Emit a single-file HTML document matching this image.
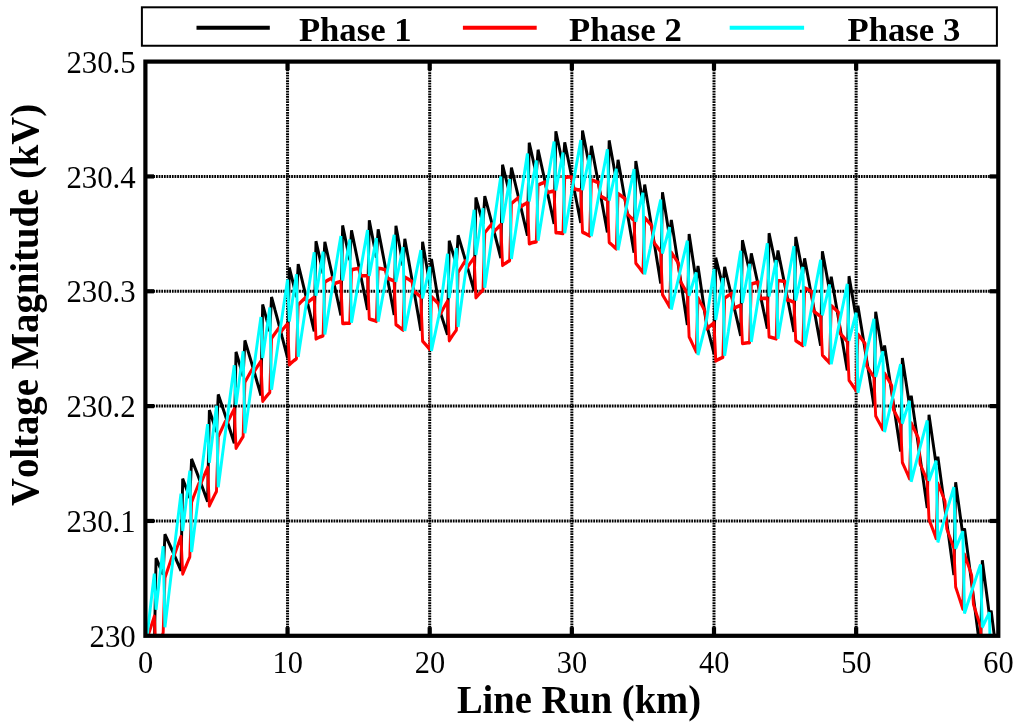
<!DOCTYPE html>
<html lang="en"><head><meta charset="utf-8"><title>Voltage Magnitude vs Line Run</title>
<style>
html,body{margin:0;padding:0;background:#fff;}
body{width:1024px;height:727px;overflow:hidden;}
svg{display:block;}
text{font-kerning:none;}
.tk{font-family:"Liberation Serif","Times New Roman",serif;font-size:31.5px;fill:#000;}
.lb{font-family:"Liberation Serif","Times New Roman",serif;font-weight:bold;font-size:40px;fill:#000;}
.lg{font-family:"Liberation Serif","Times New Roman",serif;font-weight:bold;font-size:34.7px;fill:#000;}
</style></head><body>
<svg width="1024" height="727" viewBox="0 0 1024 727">
<rect width="1024" height="727" fill="#fff"/>
<g stroke="#000" stroke-width="3" stroke-dasharray="1.75 0.9" fill="none">
<line x1="287.55" y1="61.6" x2="287.55" y2="635.8"/>
<line x1="429.70" y1="61.6" x2="429.70" y2="635.8"/>
<line x1="571.85" y1="61.6" x2="571.85" y2="635.8"/>
<line x1="714.00" y1="61.6" x2="714.00" y2="635.8"/>
<line x1="856.15" y1="61.6" x2="856.15" y2="635.8"/>
<line x1="145.4" y1="520.96" x2="998.3" y2="520.96"/>
<line x1="145.4" y1="406.12" x2="998.3" y2="406.12"/>
<line x1="145.4" y1="291.28" x2="998.3" y2="291.28"/>
<line x1="145.4" y1="176.44" x2="998.3" y2="176.44"/>
</g>
<defs><clipPath id="pc"><rect x="145.40" y="61.60" width="852.90" height="574.20"/></clipPath></defs>
<g clip-path="url(#pc)"><g transform="scale(0.8,1)" fill="none" stroke-width="3.65">
<path stroke="#000" stroke-linejoin="bevel" d="M181.75 633.1 L183.97 636.5 L186.19 639.9 L188.41 643.3 L190.63 646.8 L192.86 650.4 L195.08 558.2 L197.30 562.2 L199.52 566.3 L201.74 570.4 L203.96 574.5 L206.18 534.3 L208.40 538.2 L210.62 542.1 L212.85 546.0 L215.07 550.0 L217.29 554.1 L219.51 558.1 L221.73 562.3 L223.95 566.5 L226.17 570.7 L228.39 478.9 L230.61 483.5 L232.84 488.2 L235.06 493.0 L237.28 497.8 L239.50 459.1 L241.72 463.6 L243.94 468.2 L246.16 472.8 L248.38 477.5 L250.60 482.3 L252.82 487.0 L255.05 491.8 L257.27 496.7 L259.49 501.6 L261.71 410.2 L263.93 415.5 L266.15 420.8 L268.37 426.2 L270.59 431.7 L272.81 394.5 L275.04 399.7 L277.26 405.0 L279.48 410.3 L281.70 415.6 L283.92 421.0 L286.14 426.5 L288.36 432.0 L290.58 437.6 L292.80 443.1 L295.03 352.0 L297.25 358.0 L299.47 364.0 L301.69 370.0 L303.91 376.1 L306.13 340.5 L308.35 346.4 L310.57 352.3 L312.79 358.3 L315.02 364.3 L317.24 370.4 L319.46 376.6 L321.68 382.8 L323.90 389.0 L326.12 395.3 L328.34 304.5 L330.56 311.1 L332.78 317.8 L335.01 324.5 L337.23 331.2 L339.45 297.0 L341.67 303.6 L343.89 310.3 L346.11 316.9 L348.33 323.7 L350.55 330.4 L352.77 337.3 L355.00 344.1 L357.22 351.0 L359.44 358.0 L361.66 267.5 L363.88 274.8 L366.10 282.1 L368.32 289.5 L370.54 296.9 L372.76 264.2 L374.99 271.5 L377.21 278.8 L379.43 286.2 L381.65 293.6 L383.87 301.0 L386.09 308.5 L388.31 316.1 L390.53 323.7 L392.75 331.3 L394.98 241.2 L397.20 249.1 L399.42 257.1 L401.64 265.1 L403.86 273.2 L406.08 242.0 L408.30 250.0 L410.52 257.9 L412.74 266.0 L414.96 274.1 L417.19 282.2 L419.41 290.4 L421.63 298.6 L423.85 306.9 L426.07 315.2 L428.29 225.5 L430.51 234.0 L432.73 242.7 L434.95 251.4 L437.18 260.1 L439.40 230.4 L441.62 239.0 L443.84 247.7 L446.06 256.4 L448.28 265.2 L450.50 274.0 L452.72 282.9 L454.94 291.8 L457.17 300.8 L459.39 309.8 L461.61 220.3 L463.83 229.6 L466.05 238.8 L468.27 248.2 L470.49 257.6 L472.71 229.4 L474.93 238.7 L477.16 248.0 L479.38 257.4 L481.60 266.9 L483.82 276.4 L486.04 286.0 L488.26 295.5 L490.48 305.2 L492.70 314.9 L494.92 225.8 L497.15 235.7 L499.37 245.6 L501.59 255.6 L503.81 265.7 L506.03 239.0 L508.25 248.9 L510.47 259.0 L512.69 269.1 L514.91 279.2 L517.14 289.4 L519.36 299.6 L521.58 309.9 L523.80 320.2 L526.02 330.6 L528.24 241.8 L530.46 252.4 L532.68 263.0 L534.90 273.6 L537.12 284.3 L539.35 259.1 L541.57 269.8 L543.79 280.5 L546.01 291.3 L548.23 302.1 L550.45 312.2 L552.67 317.8 L554.89 323.4 L557.11 329.0 L559.34 334.7 L561.56 240.9 L563.78 246.7 L566.00 252.6 L568.22 258.5 L570.44 264.5 L572.66 235.4 L574.88 241.4 L577.10 247.4 L579.33 253.5 L581.55 259.6 L583.77 265.8 L585.99 272.0 L588.21 278.3 L590.43 284.6 L592.65 291.0 L594.87 197.5 L597.09 204.0 L599.32 210.6 L601.54 217.2 L603.76 223.8 L605.98 196.2 L608.20 202.9 L610.42 209.6 L612.64 216.4 L614.86 223.2 L617.08 230.0 L619.31 236.9 L621.53 243.9 L623.75 250.9 L625.97 258.0 L628.19 164.8 L630.41 172.0 L632.63 179.2 L634.85 186.4 L637.07 193.8 L639.30 167.7 L641.52 175.0 L643.74 182.4 L645.96 189.9 L648.18 197.4 L650.40 204.9 L652.62 212.5 L654.84 220.2 L657.06 227.8 L659.29 235.6 L661.51 142.8 L663.73 150.6 L665.95 158.5 L668.17 166.4 L670.39 174.4 L672.61 149.8 L674.83 157.8 L677.05 165.9 L679.27 174.0 L681.50 182.2 L683.72 190.4 L685.94 198.7 L688.16 207.0 L690.38 215.4 L692.60 223.8 L694.82 131.4 L697.04 139.9 L699.26 148.4 L701.49 157.0 L703.71 165.6 L705.93 142.5 L708.15 151.2 L710.37 160.0 L712.59 168.8 L714.81 177.7 L717.03 186.6 L719.25 195.6 L721.48 204.6 L723.70 213.7 L725.92 222.8 L728.14 130.6 L730.36 139.8 L732.58 149.0 L734.80 158.2 L737.02 167.5 L739.24 145.9 L741.47 155.3 L743.69 164.8 L745.91 174.3 L748.13 183.8 L750.35 193.4 L752.57 203.1 L754.79 212.8 L757.01 222.5 L759.23 232.3 L761.46 140.5 L763.68 150.3 L765.90 160.2 L768.12 170.1 L770.34 180.0 L772.56 159.9 L774.78 170.0 L777.00 180.2 L779.22 190.4 L781.45 200.6 L783.67 210.9 L785.89 221.2 L788.11 231.6 L790.33 242.1 L792.55 252.5 L794.77 161.1 L796.99 171.6 L799.21 182.1 L801.44 192.6 L803.66 203.2 L805.88 184.6 L808.10 195.4 L810.32 206.2 L812.54 217.1 L814.76 228.1 L816.98 239.0 L819.20 250.0 L821.42 261.1 L823.65 272.2 L825.87 283.4 L828.09 192.3 L830.31 203.4 L832.53 214.6 L834.75 225.8 L836.97 237.1 L839.19 220.0 L841.41 231.4 L843.64 243.0 L845.86 254.5 L848.08 266.1 L850.30 277.8 L852.52 289.5 L854.74 301.2 L856.96 313.0 L859.18 324.9 L861.40 234.1 L863.63 245.9 L865.85 257.8 L868.07 269.6 L870.29 281.5 L872.51 266.0 L874.73 278.1 L876.95 290.3 L879.17 302.6 L881.39 314.9 L883.62 325.4 L885.84 332.4 L888.06 339.4 L890.28 346.5 L892.50 353.7 L894.72 257.9 L896.94 265.0 L899.16 272.1 L901.38 279.2 L903.61 286.4 L905.83 266.9 L908.05 274.4 L910.27 281.9 L912.49 289.5 L914.71 297.1 L916.93 304.7 L919.15 312.4 L921.37 320.1 L923.60 327.9 L925.82 335.8 L928.04 240.3 L930.26 248.0 L932.48 255.8 L934.70 263.6 L936.92 271.5 L939.14 253.5 L941.36 261.6 L943.59 269.8 L945.81 278.0 L948.03 286.3 L950.25 294.7 L952.47 303.0 L954.69 311.5 L956.91 319.9 L959.13 328.5 L961.35 233.3 L963.57 241.7 L965.80 250.1 L968.02 258.6 L970.24 267.1 L972.46 250.6 L974.68 259.5 L976.90 268.3 L979.12 277.3 L981.34 286.2 L983.56 295.3 L985.79 304.3 L988.01 313.4 L990.23 322.6 L992.45 331.8 L994.67 237.0 L996.89 246.0 L999.11 255.1 L1001.33 264.2 L1003.55 273.4 L1005.78 258.4 L1008.00 268.0 L1010.22 277.5 L1012.44 287.1 L1014.66 296.8 L1016.88 306.5 L1019.10 316.2 L1021.32 326.0 L1023.54 335.9 L1025.77 345.7 L1027.99 251.3 L1030.21 261.0 L1032.43 270.7 L1034.65 280.5 L1036.87 290.4 L1039.09 276.9 L1041.31 287.1 L1043.53 297.3 L1045.76 307.6 L1047.98 317.9 L1050.20 328.3 L1052.42 338.8 L1054.64 349.2 L1056.86 359.8 L1059.08 370.3 L1061.30 276.2 L1063.52 286.6 L1065.75 297.0 L1067.97 307.4 L1070.19 317.9 L1072.41 305.9 L1074.63 316.8 L1076.85 327.7 L1079.07 338.7 L1081.29 349.7 L1083.51 360.8 L1085.74 371.9 L1087.96 383.1 L1090.18 394.3 L1092.40 405.6 L1094.62 311.8 L1096.84 322.8 L1099.06 333.9 L1101.28 345.0 L1103.50 356.1 L1105.72 345.6 L1107.95 357.2 L1110.17 368.8 L1112.39 380.5 L1114.61 392.2 L1116.83 403.9 L1119.05 415.7 L1121.27 427.6 L1123.49 439.5 L1125.71 451.4 L1127.94 358.0 L1130.16 369.6 L1132.38 381.4 L1134.60 393.1 L1136.82 404.9 L1139.04 395.9 L1141.26 408.2 L1143.48 420.5 L1145.70 432.8 L1147.93 445.2 L1150.15 457.7 L1152.37 470.1 L1154.59 482.7 L1156.81 495.3 L1159.03 507.9 L1161.25 414.8 L1163.47 427.1 L1165.69 439.5 L1167.92 451.9 L1170.14 464.4 L1172.36 456.9 L1174.58 469.8 L1176.80 482.8 L1179.02 495.8 L1181.24 508.9 L1183.46 522.0 L1185.68 535.2 L1187.91 548.4 L1190.13 561.7 L1192.35 575.0 L1194.57 482.2 L1196.79 495.2 L1199.01 508.3 L1201.23 521.3 L1203.45 534.5 L1205.67 528.5 L1207.90 542.1 L1210.12 555.8 L1212.34 569.5 L1214.56 583.2 L1216.78 597.0 L1219.00 610.9 L1221.22 624.8 L1223.44 638.7 L1225.66 652.7 L1227.89 560.3 L1230.11 574.0 L1232.33 587.7 L1234.55 601.4 L1236.77 615.2 L1238.99 610.7 L1241.21 625.0 L1243.43 639.3 L1245.65 653.7 L1247.87 668.2"/>
<path stroke="#f00" stroke-linejoin="round" d="M181.75 640.2 L183.97 638.9 L186.19 633.2 L188.41 627.6 L190.63 622.0 L192.86 616.4 L195.08 652.8 L197.30 647.8 L199.52 642.7 L201.74 637.7 L203.96 632.8 L206.18 577.9 L208.40 572.5 L210.62 567.2 L212.85 561.9 L215.07 556.7 L217.29 556.4 L219.51 551.4 L221.73 546.4 L223.95 541.5 L226.17 536.6 L228.39 574.0 L230.61 569.7 L232.84 565.3 L235.06 561.0 L237.28 556.8 L239.50 502.1 L241.72 497.4 L243.94 492.8 L246.16 488.2 L248.38 483.7 L250.60 484.4 L252.82 480.1 L255.05 475.9 L257.27 471.7 L259.49 467.5 L261.71 505.8 L263.93 502.1 L266.15 498.5 L268.37 494.9 L270.59 491.4 L272.81 436.9 L275.04 432.9 L277.26 429.0 L279.48 425.1 L281.70 421.3 L283.92 423.1 L286.14 419.5 L288.36 416.0 L290.58 412.5 L292.80 409.0 L295.03 448.2 L297.25 445.2 L299.47 442.3 L301.69 439.4 L303.91 436.6 L306.13 382.3 L308.35 379.0 L310.57 375.8 L312.79 372.6 L315.02 369.5 L317.24 372.4 L319.46 369.5 L321.68 366.7 L323.90 363.9 L326.12 361.2 L328.34 401.1 L330.56 398.9 L332.78 396.6 L335.01 394.5 L337.23 392.4 L339.45 338.3 L341.67 335.7 L343.89 333.2 L346.11 330.8 L348.33 328.3 L350.55 332.3 L352.77 330.1 L355.00 328.0 L357.22 325.9 L359.44 323.9 L361.66 364.7 L363.88 363.1 L366.10 361.6 L368.32 360.1 L370.54 358.7 L372.76 304.9 L374.99 303.0 L377.21 301.2 L379.43 299.5 L381.65 297.8 L383.87 302.8 L386.09 301.4 L388.31 300.0 L390.53 298.6 L392.75 297.3 L394.98 338.8 L397.20 337.9 L399.42 337.1 L401.64 336.4 L403.86 335.7 L406.08 282.1 L408.30 280.9 L410.52 279.8 L412.74 278.8 L414.96 277.8 L417.19 284.0 L419.41 283.2 L421.63 282.5 L423.85 281.9 L426.07 281.3 L428.29 323.5 L430.51 323.4 L432.73 323.3 L434.95 323.2 L437.18 323.2 L439.40 269.9 L441.62 269.4 L443.84 269.0 L446.06 268.7 L448.28 268.4 L450.50 275.8 L452.72 275.7 L454.94 275.7 L457.17 275.8 L459.39 275.9 L461.61 318.8 L463.83 319.4 L466.05 320.0 L468.27 320.6 L470.49 321.3 L472.71 268.3 L474.93 268.5 L477.16 268.8 L479.38 269.2 L481.60 269.6 L483.82 278.2 L486.04 278.8 L488.26 279.5 L490.48 280.3 L492.70 281.1 L494.92 324.7 L497.15 325.9 L499.37 327.3 L501.59 328.6 L503.81 330.0 L506.03 277.2 L508.25 278.2 L510.47 279.2 L512.69 280.3 L514.91 281.4 L517.14 291.2 L519.36 292.6 L521.58 294.0 L523.80 295.4 L526.02 296.9 L528.24 341.1 L530.46 343.1 L532.68 345.1 L534.90 347.2 L537.12 349.3 L539.35 296.8 L541.57 298.5 L543.79 300.3 L546.01 302.0 L548.23 303.9 L550.45 314.1 L552.67 310.8 L554.89 307.5 L557.11 304.3 L559.34 301.2 L561.56 340.6 L563.78 337.9 L566.00 335.2 L568.22 332.6 L570.44 330.1 L572.66 272.5 L574.88 269.5 L577.10 266.6 L579.33 263.7 L581.55 260.9 L583.77 267.7 L585.99 265.1 L588.21 262.6 L590.43 260.1 L592.65 257.6 L594.87 297.6 L597.09 295.6 L599.32 293.7 L601.54 291.8 L603.76 290.0 L605.98 232.7 L608.20 230.5 L610.42 228.2 L612.64 226.1 L614.86 223.9 L617.08 232.0 L619.31 230.1 L621.53 228.3 L623.75 226.5 L625.97 224.8 L628.19 265.3 L630.41 264.0 L632.63 262.8 L634.85 261.6 L637.07 260.5 L639.30 203.6 L641.52 202.0 L643.74 200.5 L645.96 199.0 L648.18 197.6 L650.40 207.0 L652.62 205.8 L654.84 204.7 L657.06 203.7 L659.29 202.6 L661.51 243.6 L663.73 243.1 L665.95 242.5 L668.17 242.1 L670.39 241.6 L672.61 185.1 L674.83 184.2 L677.05 183.4 L679.27 182.7 L681.50 182.0 L683.72 192.7 L685.94 192.2 L688.16 191.8 L690.38 191.4 L692.60 191.1 L694.82 232.6 L697.04 232.7 L699.26 232.9 L701.49 233.1 L703.71 233.4 L705.93 177.3 L708.15 177.1 L710.37 177.0 L712.59 177.0 L714.81 177.0 L717.03 189.0 L719.25 189.2 L721.48 189.6 L723.70 189.9 L725.92 190.3 L728.14 232.2 L730.36 233.0 L732.58 233.9 L734.80 234.9 L737.02 235.8 L739.24 180.1 L741.47 180.6 L743.69 181.2 L745.91 181.9 L748.13 182.6 L750.35 196.0 L752.57 197.0 L754.79 198.0 L757.01 199.0 L759.23 200.1 L761.46 242.4 L763.68 243.9 L765.90 245.6 L768.12 247.2 L770.34 248.9 L772.56 193.5 L774.78 194.8 L777.00 196.1 L779.22 197.5 L781.45 198.9 L783.67 213.6 L785.89 215.3 L788.11 217.1 L790.33 218.8 L792.55 220.7 L794.77 263.2 L796.99 265.5 L799.21 267.8 L801.44 270.2 L803.66 272.6 L805.88 217.6 L808.10 219.6 L810.32 221.6 L812.54 223.7 L814.76 225.8 L816.98 242.0 L819.20 244.4 L821.42 246.8 L823.65 249.3 L825.87 251.8 L828.09 294.7 L830.31 297.7 L832.53 300.7 L834.75 303.8 L836.97 306.9 L839.19 252.4 L841.41 255.1 L843.64 257.8 L845.86 260.6 L848.08 263.4 L850.30 281.0 L852.52 284.1 L854.74 287.2 L856.96 290.4 L859.18 293.7 L861.40 336.9 L863.63 340.5 L865.85 344.3 L868.07 348.1 L870.29 351.9 L872.51 297.8 L874.73 301.2 L876.95 304.6 L879.17 308.1 L881.39 311.7 L883.62 328.8 L885.84 327.2 L888.06 325.7 L890.28 324.2 L892.50 322.8 L894.72 360.9 L896.94 359.9 L899.16 359.0 L901.38 358.1 L903.61 357.2 L905.83 298.1 L908.05 296.9 L910.27 295.7 L912.49 294.5 L914.71 293.4 L916.93 308.4 L919.15 307.6 L921.37 306.7 L923.60 306.0 L925.82 305.3 L928.04 343.5 L930.26 343.3 L932.48 343.0 L934.70 342.8 L936.92 342.7 L939.14 284.1 L941.36 283.5 L943.59 283.0 L945.81 282.6 L948.03 282.1 L950.25 298.7 L952.47 298.5 L954.69 298.4 L956.91 298.4 L959.13 298.4 L961.35 336.8 L963.57 337.2 L965.80 337.7 L968.02 338.2 L970.24 338.8 L972.46 280.7 L974.68 280.8 L976.90 281.0 L979.12 281.3 L981.34 281.6 L983.56 299.6 L985.79 300.1 L988.01 300.8 L990.23 301.4 L992.45 302.1 L994.67 340.7 L996.89 341.9 L999.11 343.0 L1001.33 344.3 L1003.55 345.5 L1005.78 287.9 L1008.00 288.7 L1010.22 289.7 L1012.44 290.6 L1014.66 291.6 L1016.88 311.1 L1019.10 312.4 L1021.32 313.7 L1023.54 315.1 L1025.77 316.5 L1027.99 355.2 L1030.21 357.1 L1032.43 359.0 L1034.65 360.9 L1036.87 362.9 L1039.09 305.7 L1041.31 307.3 L1043.53 308.9 L1045.76 310.6 L1047.98 312.3 L1050.20 333.4 L1052.42 335.3 L1054.64 337.4 L1056.86 339.5 L1059.08 341.6 L1061.30 380.4 L1063.52 382.9 L1065.75 385.5 L1067.97 388.2 L1070.19 390.9 L1072.41 334.2 L1074.63 336.5 L1076.85 338.8 L1079.07 341.2 L1081.29 343.6 L1083.51 366.2 L1085.74 368.9 L1087.96 371.7 L1090.18 374.4 L1092.40 377.3 L1094.62 416.1 L1096.84 419.4 L1099.06 422.7 L1101.28 426.0 L1103.50 429.4 L1105.72 373.3 L1107.95 376.3 L1110.17 379.3 L1112.39 382.4 L1114.61 385.5 L1116.83 409.7 L1119.05 413.1 L1121.27 416.6 L1123.49 420.1 L1125.71 423.6 L1127.94 462.5 L1130.16 466.4 L1132.38 470.4 L1134.60 474.5 L1136.82 478.6 L1139.04 423.0 L1141.26 426.7 L1143.48 430.5 L1145.70 434.3 L1147.93 438.1 L1150.15 463.9 L1152.37 468.0 L1154.59 472.2 L1156.81 476.4 L1159.03 480.6 L1161.25 519.4 L1163.47 524.1 L1165.69 528.8 L1167.92 533.6 L1170.14 538.4 L1172.36 483.4 L1174.58 487.8 L1176.80 492.2 L1179.02 496.7 L1181.24 501.3 L1183.46 528.7 L1185.68 533.5 L1187.91 538.4 L1190.13 543.3 L1192.35 548.3 L1194.57 587.0 L1196.79 592.4 L1199.01 597.9 L1201.23 603.3 L1203.45 608.9 L1205.67 554.4 L1207.90 559.5 L1210.12 564.7 L1212.34 569.9 L1214.56 575.1 L1216.78 604.2 L1219.00 609.7 L1221.22 615.3 L1223.44 620.9 L1225.66 626.6 L1227.89 665.3 L1230.11 671.3 L1232.33 677.5 L1234.55 683.7 L1236.77 689.9 L1238.99 636.0 L1241.21 641.8 L1243.43 647.7 L1245.65 653.6 L1247.87 659.6"/>
<path stroke="#0ff" stroke-linejoin="bevel" d="M181.75 650.7 L183.97 635.2 L186.19 619.8 L188.41 604.4 L190.63 589.0 L192.86 573.7 L195.08 609.7 L197.30 593.8 L199.52 577.9 L201.74 562.0 L203.96 546.2 L206.18 627.3 L208.40 612.3 L210.62 597.3 L212.85 582.3 L215.07 567.4 L217.29 552.6 L219.51 537.8 L221.73 523.0 L223.95 508.3 L226.17 493.7 L228.39 530.9 L230.61 515.8 L232.84 500.7 L235.06 485.6 L237.28 470.7 L239.50 552.0 L241.72 537.6 L243.94 523.3 L246.16 509.0 L248.38 494.7 L250.60 480.5 L252.82 466.4 L255.05 452.3 L257.27 438.2 L259.49 424.2 L261.71 462.7 L263.93 448.3 L266.15 434.1 L268.37 419.9 L270.59 405.7 L272.81 487.3 L275.04 473.6 L277.26 459.9 L279.48 446.3 L281.70 432.7 L283.92 419.1 L286.14 405.6 L288.36 392.1 L290.58 378.7 L292.80 365.4 L295.03 405.0 L297.25 391.5 L299.47 378.1 L301.69 364.7 L303.91 351.3 L306.13 433.2 L308.35 420.2 L310.57 407.1 L312.79 394.1 L315.02 381.2 L317.24 368.3 L319.46 355.4 L321.68 342.6 L323.90 329.8 L326.12 317.1 L328.34 358.0 L330.56 345.3 L332.78 332.7 L335.01 320.1 L337.23 307.5 L339.45 389.7 L341.67 377.3 L343.89 364.9 L346.11 352.5 L348.33 340.3 L350.55 328.0 L352.77 315.8 L355.00 303.6 L357.22 291.5 L359.44 279.5 L361.66 321.5 L363.88 309.7 L366.10 297.8 L368.32 286.1 L370.54 274.3 L372.76 356.8 L374.99 345.0 L377.21 333.3 L379.43 321.6 L381.65 309.9 L383.87 298.3 L386.09 286.8 L388.31 275.3 L390.53 263.8 L392.75 252.4 L394.98 295.7 L397.20 284.6 L399.42 273.6 L401.64 262.6 L403.86 251.7 L406.08 334.5 L408.30 323.3 L410.52 312.2 L412.74 301.2 L414.96 290.2 L417.19 279.3 L419.41 268.4 L421.63 257.5 L423.85 246.7 L426.07 236.0 L428.29 280.5 L430.51 270.2 L432.73 259.9 L434.95 249.8 L437.18 239.6 L439.40 322.7 L441.62 312.2 L443.84 301.8 L446.06 291.4 L448.28 281.1 L450.50 270.8 L452.72 260.6 L454.94 250.4 L457.17 240.2 L459.39 230.1 L461.61 275.8 L463.83 266.3 L466.05 256.9 L468.27 247.5 L470.49 238.1 L472.71 321.5 L474.93 311.7 L477.16 301.9 L479.38 292.2 L481.60 282.5 L483.82 272.9 L486.04 263.3 L488.26 253.8 L490.48 244.3 L492.70 234.9 L494.92 281.8 L497.15 273.1 L499.37 264.4 L501.59 255.8 L503.81 247.2 L506.03 330.9 L508.25 321.8 L510.47 312.7 L512.69 303.6 L514.91 294.6 L517.14 285.6 L519.36 276.7 L521.58 267.8 L523.80 259.0 L526.02 250.2 L528.24 298.3 L530.46 290.4 L532.68 282.5 L534.90 274.7 L537.12 266.9 L539.35 350.9 L541.57 342.4 L543.79 334.0 L546.01 325.6 L548.23 317.2 L550.45 308.2 L552.67 294.5 L554.89 280.9 L557.11 267.4 L559.34 253.9 L561.56 297.9 L563.78 285.3 L566.00 272.8 L568.22 260.4 L570.44 248.0 L572.66 327.0 L574.88 313.8 L577.10 300.6 L579.33 287.5 L581.55 274.5 L583.77 261.5 L585.99 248.5 L588.21 235.6 L590.43 222.7 L592.65 209.9 L594.87 255.0 L597.09 243.2 L599.32 231.5 L601.54 219.8 L603.76 208.2 L605.98 287.6 L608.20 275.0 L610.42 262.6 L612.64 250.1 L614.86 237.7 L617.08 225.4 L619.31 213.1 L621.53 200.8 L623.75 188.6 L625.97 176.5 L628.19 222.8 L630.41 211.8 L632.63 200.8 L634.85 189.9 L637.07 179.1 L639.30 258.8 L641.52 246.9 L643.74 235.1 L645.96 223.3 L648.18 211.6 L650.40 199.9 L652.62 188.3 L654.84 176.7 L657.06 165.2 L659.29 153.7 L661.51 201.3 L663.73 191.0 L665.95 180.8 L668.17 170.6 L670.39 160.5 L672.61 240.6 L674.83 229.5 L677.05 218.3 L679.27 207.2 L681.50 196.2 L683.72 185.2 L685.94 174.2 L688.16 163.3 L690.38 152.4 L692.60 141.6 L694.82 190.4 L697.04 180.9 L699.26 171.4 L701.49 162.0 L703.71 152.6 L705.93 233.1 L708.15 222.6 L710.37 212.1 L712.59 201.7 L714.81 191.3 L717.03 181.0 L719.25 170.7 L721.48 160.5 L723.70 150.3 L725.92 140.2 L728.14 190.1 L730.36 181.4 L732.58 172.6 L734.80 164.0 L737.02 155.3 L739.24 236.2 L741.47 226.4 L743.69 216.6 L745.91 206.9 L748.13 197.2 L750.35 187.5 L752.57 177.9 L754.79 168.3 L757.01 158.8 L759.23 149.4 L761.46 200.5 L763.68 192.5 L765.90 184.5 L768.12 176.6 L770.34 168.7 L772.56 250.0 L774.78 240.8 L777.00 231.7 L779.22 222.6 L781.45 213.6 L783.67 204.6 L785.89 195.7 L788.11 186.8 L790.33 178.0 L792.55 169.2 L794.77 221.6 L796.99 214.3 L799.21 207.0 L801.44 199.8 L803.66 192.7 L805.88 274.4 L808.10 265.9 L810.32 257.4 L812.54 249.1 L814.76 240.7 L816.98 232.4 L819.20 224.2 L821.42 216.0 L823.65 207.8 L825.87 199.7 L828.09 253.3 L830.31 246.7 L832.53 240.2 L834.75 233.7 L836.97 227.2 L839.19 309.4 L841.41 301.6 L843.64 293.8 L845.86 286.1 L848.08 278.4 L850.30 270.8 L852.52 263.3 L854.74 255.7 L856.96 248.3 L859.18 240.8 L861.40 295.6 L863.63 289.8 L865.85 284.0 L868.07 278.2 L870.29 272.5 L872.51 355.0 L874.73 347.9 L876.95 340.8 L879.17 333.8 L881.39 326.8 L883.62 318.0 L885.84 305.8 L888.06 293.5 L890.28 281.4 L892.50 269.2 L894.72 319.9 L896.94 309.4 L899.16 298.9 L901.38 288.4 L903.61 278.0 L905.83 355.7 L908.05 343.8 L910.27 332.1 L912.49 320.3 L914.71 308.7 L916.93 297.0 L919.15 285.4 L921.37 273.9 L923.60 262.4 L925.82 250.9 L928.04 302.8 L930.26 293.0 L932.48 283.2 L934.70 273.4 L936.92 263.8 L939.14 341.8 L941.36 330.7 L943.59 319.6 L945.81 308.6 L948.03 297.6 L950.25 286.6 L952.47 275.7 L954.69 264.8 L956.91 254.0 L959.13 243.3 L961.35 296.3 L963.57 287.2 L965.80 278.1 L968.02 269.1 L970.24 260.1 L972.46 338.6 L974.68 328.2 L976.90 317.8 L979.12 307.4 L981.34 297.1 L983.56 286.8 L985.79 276.6 L988.01 266.4 L990.23 256.3 L992.45 246.2 L994.67 300.5 L996.89 292.1 L999.11 283.7 L1001.33 275.3 L1003.55 267.0 L1005.78 346.0 L1008.00 336.3 L1010.22 326.5 L1012.44 316.9 L1014.66 307.2 L1016.88 297.7 L1019.10 288.1 L1021.32 278.6 L1023.54 269.2 L1025.77 259.8 L1027.99 315.3 L1030.21 307.5 L1032.43 299.8 L1034.65 292.2 L1036.87 284.6 L1039.09 364.1 L1041.31 355.0 L1043.53 345.9 L1045.76 337.0 L1047.98 328.0 L1050.20 319.1 L1052.42 310.3 L1054.64 301.5 L1056.86 292.7 L1059.08 284.0 L1061.30 340.7 L1063.52 333.7 L1065.75 326.6 L1067.97 319.6 L1070.19 312.7 L1072.41 392.7 L1074.63 384.3 L1076.85 376.0 L1079.07 367.7 L1081.29 359.4 L1083.51 351.2 L1085.74 343.1 L1087.96 335.0 L1090.18 326.9 L1092.40 318.9 L1094.62 376.8 L1096.84 370.4 L1099.06 364.0 L1101.28 357.7 L1103.50 351.4 L1105.72 431.9 L1107.95 424.2 L1110.17 416.6 L1112.39 409.0 L1114.61 401.4 L1116.83 393.9 L1119.05 386.5 L1121.27 379.0 L1123.49 371.7 L1125.71 364.4 L1127.94 423.5 L1130.16 417.7 L1132.38 412.0 L1134.60 406.4 L1136.82 400.8 L1139.04 481.8 L1141.26 474.8 L1143.48 467.8 L1145.70 460.9 L1147.93 454.1 L1150.15 447.3 L1152.37 440.5 L1154.59 433.8 L1156.81 427.1 L1159.03 420.5 L1161.25 480.8 L1163.47 475.7 L1165.69 470.7 L1167.92 465.7 L1170.14 460.8 L1172.36 542.3 L1174.58 536.0 L1176.80 529.7 L1179.02 523.5 L1181.24 517.3 L1183.46 511.2 L1185.68 505.1 L1187.91 499.1 L1190.13 493.1 L1192.35 487.2 L1194.57 548.7 L1196.79 544.3 L1199.01 539.9 L1201.23 535.6 L1203.45 531.3 L1205.67 613.4 L1207.90 607.8 L1210.12 602.2 L1212.34 596.7 L1214.56 591.2 L1216.78 585.8 L1219.00 580.4 L1221.22 575.1 L1223.44 569.8 L1225.66 564.6 L1227.89 627.3 L1230.11 623.5 L1232.33 619.8 L1234.55 616.1 L1236.77 612.5 L1238.99 695.1 L1241.21 690.2 L1243.43 685.3 L1245.65 680.5 L1247.87 675.7"/>
</g></g>
<g stroke="#000" stroke-width="4.2" fill="none">
<line x1="287.55" y1="635.8" x2="287.55" y2="627.1999999999999"/><line x1="287.55" y1="61.6" x2="287.55" y2="70.2"/>
<line x1="429.70" y1="635.8" x2="429.70" y2="627.1999999999999"/><line x1="429.70" y1="61.6" x2="429.70" y2="70.2"/>
<line x1="571.85" y1="635.8" x2="571.85" y2="627.1999999999999"/><line x1="571.85" y1="61.6" x2="571.85" y2="70.2"/>
<line x1="714.00" y1="635.8" x2="714.00" y2="627.1999999999999"/><line x1="714.00" y1="61.6" x2="714.00" y2="70.2"/>
<line x1="856.15" y1="635.8" x2="856.15" y2="627.1999999999999"/><line x1="856.15" y1="61.6" x2="856.15" y2="70.2"/>
<line x1="145.4" y1="520.96" x2="154.0" y2="520.96"/><line x1="998.3" y1="520.96" x2="989.6999999999999" y2="520.96"/>
<line x1="145.4" y1="406.12" x2="154.0" y2="406.12"/><line x1="998.3" y1="406.12" x2="989.6999999999999" y2="406.12"/>
<line x1="145.4" y1="291.28" x2="154.0" y2="291.28"/><line x1="998.3" y1="291.28" x2="989.6999999999999" y2="291.28"/>
<line x1="145.4" y1="176.44" x2="154.0" y2="176.44"/><line x1="998.3" y1="176.44" x2="989.6999999999999" y2="176.44"/>
</g>
<rect x="145.4" y="61.6" width="852.90" height="574.20" fill="none" stroke="#000" stroke-width="4.2"/>
<rect x="141.9" y="7.3" width="855" height="38.45" fill="#fff" stroke="#000" stroke-width="2"/>
<g stroke-width="4" fill="none">
<line x1="196.5" y1="27.8" x2="269.8" y2="27.8" stroke="#000"/>
<line x1="462.9" y1="27.8" x2="536.7" y2="27.8" stroke="#f00"/>
<line x1="729.7" y1="27.8" x2="804.1" y2="27.8" stroke="#0ff"/>
</g>
<text class="lg" x="298.9" y="41">Phase 1</text>
<text class="lg" x="569" y="41">Phase 2</text>
<text class="lg" x="847.5" y="41">Phase 3</text>
<text class="tk" transform="translate(145.60,672.7) scale(0.965,1)" text-anchor="middle">0</text>
<text class="tk" transform="translate(287.75,672.7) scale(0.965,1)" text-anchor="middle">10</text>
<text class="tk" transform="translate(429.90,672.7) scale(0.965,1)" text-anchor="middle">20</text>
<text class="tk" transform="translate(572.05,672.7) scale(0.965,1)" text-anchor="middle">30</text>
<text class="tk" transform="translate(714.20,672.7) scale(0.965,1)" text-anchor="middle">40</text>
<text class="tk" transform="translate(856.35,672.7) scale(0.965,1)" text-anchor="middle">50</text>
<text class="tk" transform="translate(998.50,672.7) scale(0.965,1)" text-anchor="middle">60</text>
<text class="tk" transform="translate(135.7,647.00) scale(0.978,1)" text-anchor="end">230</text>
<text class="tk" transform="translate(135.7,532.16) scale(0.978,1)" text-anchor="end">230.1</text>
<text class="tk" transform="translate(135.7,417.32) scale(0.978,1)" text-anchor="end">230.2</text>
<text class="tk" transform="translate(135.7,302.48) scale(0.978,1)" text-anchor="end">230.3</text>
<text class="tk" transform="translate(135.7,187.64) scale(0.978,1)" text-anchor="end">230.4</text>
<text class="tk" transform="translate(135.7,72.80) scale(0.978,1)" text-anchor="end">230.5</text>
<text class="lb" transform="translate(456.9,713.4) scale(0.964,1)">Line Run (km)</text>
<text class="lb" transform="translate(37.9,506.0) rotate(-90) scale(0.968,1)">Voltage Magnitude (kV)</text>
</svg>
</body></html>
